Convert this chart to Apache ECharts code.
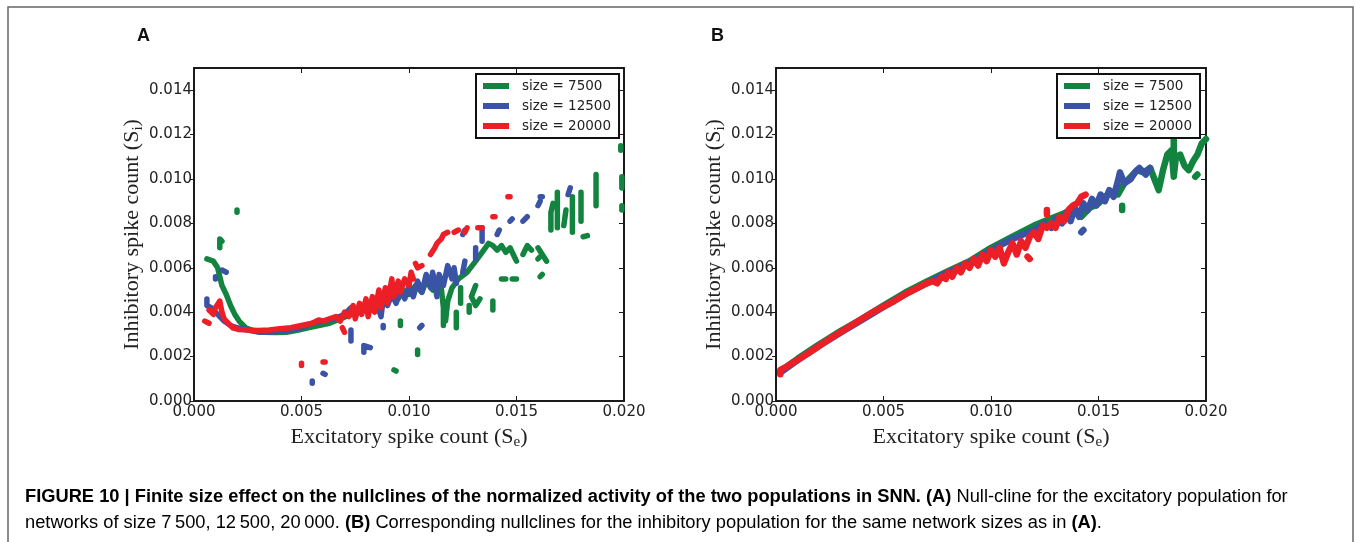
<!DOCTYPE html>
<html>
<head>
<meta charset="utf-8">
<script src="https://cdn.jsdelivr.net/npm/echarts@6/dist/echarts.min.js"></script>
<style>
  html, body { margin: 0; padding: 0; background: #fff; }
  #chart { width: 1355px; height: 542px; }
</style>
</head>
<body>
<div id="chart"></div>
<script>
// Network sizes shown in both panels
const sizes = ['size = 7500', 'size = 12500', 'size = 20000'];
const colors = ['#13843f', '#3a53a4', '#ec1f27'];

// Axis ticks
const xTicks = [0, 0.005, 0.010, 0.015, 0.020];
const yTicks = [0, 0.002, 0.004, 0.006, 0.008, 0.010, 0.012, 0.014];

// Panel A: excitatory nullcline, points [Se, Si]; null breaks the trace
const aGreen = [
  [0.0006,0.0064],[0.0009,0.0063],[0.0011,0.0060],[0.0012,0.0056],[0.0013,0.0052],[0.0015,0.0048],
  [0.0017,0.0043],[0.0019,0.0039],[0.0021,0.0036],[0.0024,0.0033],[0.0028,0.00315],[0.0033,0.0031],
  [0.0038,0.00308],[0.0043,0.0031],[0.0048,0.00318],[0.0053,0.0033],[0.0058,0.0034],[0.0063,0.0035],
  [0.0068,0.0037],[0.0073,0.0039],[0.0078,0.0041],[0.0083,0.0043],[0.0087,0.0045],[0.0090,0.0047],
  [0.0093,0.0049],[0.0095,0.0046],[0.0097,0.0050],[0.0100,0.0048],[0.0103,0.0052],[0.0106,0.0049],
  [0.0108,0.0054],[0.0111,0.0050],[0.0113,0.0055],[0.0115,0.0051],[0.0116,0.0042],[0.0116,0.0034],null,
  [0.0117,0.0036],[0.0118,0.0045],[0.0120,0.0051],[0.0123,0.0055],[0.0127,0.0058],[0.0131,0.0063],
  [0.0134,0.0067],[0.0137,0.0071],[0.0139,0.0070],[0.0141,0.0068],[0.0143,0.0070],[0.0145,0.0067],
  [0.0147,0.0069],[0.0149,0.0065],[0.0150,0.0063],null,
  [0.0153,0.0066],[0.0155,0.0070],[0.0157,0.0068],null,
  [0.0160,0.0069],[0.0162,0.0066],[0.0164,0.0063],null,
  [0.0124,0.0051],[0.0124,0.0044],null,
  [0.0131,0.0052],[0.0129,0.0047],[0.0131,0.0043],[0.0133,0.0046],null,
  [0.0122,0.0033],[0.0122,0.0040],null,
  [0.0128,0.0040],[0.0128,0.0043],null,
  [0.0139,0.0041],[0.0139,0.0045],null,
  [0.0143,0.0055],[0.0145,0.0055],null,
  [0.0148,0.0055],[0.0150,0.0055],null,
  [0.0161,0.0056],[0.0162,0.0057],null,
  [0.0160,0.0064],[0.0161,0.0065],null,
  [0.0166,0.0077],[0.0166,0.0085],[0.0167,0.0089],null,
  [0.0169,0.0078],[0.0169,0.0094],null,
  [0.0172,0.0079],[0.0173,0.0086],null,
  [0.0176,0.0076],[0.0176,0.0092],null,
  [0.0180,0.0081],[0.0180,0.0094],null,
  [0.0181,0.0074],[0.0183,0.00745],null,
  [0.0187,0.0088],[0.0187,0.0102],null,
  [0.01985,0.0113],[0.01985,0.0115],null,
  [0.0199,0.0096],[0.0199,0.0101],null,
  [0.0199,0.0086],[0.0199,0.0088],null,
  [0.0104,0.0021],[0.0104,0.0023],null,
  [0.0093,0.0014],[0.0094,0.00135],null,
  [0.0096,0.0034],[0.0096,0.0036],null,
  [0.0012,0.0069],[0.0012,0.0073],[0.0013,0.0072],null,
  [0.0020,0.0085],[0.0020,0.0086]
];
const aBlue = [
  [0.0006,0.0046],[0.0006,0.0043],[0.0008,0.0042],[0.0010,0.0040],[0.0012,0.0038],[0.0014,0.0036],
  [0.0017,0.0034],[0.0020,0.0033],[0.0025,0.0032],[0.0030,0.0031],[0.0035,0.0031],[0.0040,0.00315],
  [0.0045,0.0032],[0.0050,0.0033],[0.0055,0.0035],[0.0060,0.0036],[0.0065,0.0037],[0.0070,0.0039],
  [0.0073,0.0042],[0.0076,0.0040],[0.0079,0.0043],[0.0082,0.0041],[0.0085,0.0044],[0.0087,0.0038],
  [0.0088,0.0046],[0.0090,0.0043],[0.0092,0.0048],[0.0094,0.0044],[0.0096,0.0050],[0.0098,0.0046],
  [0.0100,0.0052],[0.0102,0.0047],[0.0104,0.0054],[0.0106,0.0049],[0.0108,0.0057],[0.0110,0.0051],
  [0.0111,0.0058],[0.0113,0.0047],[0.0114,0.0057],[0.0116,0.0052],[0.0118,0.0061],[0.0120,0.0055],
  [0.0121,0.0060],[0.0122,0.0053],null,
  [0.0125,0.0058],[0.0126,0.0063],null,
  [0.0010,0.0055],[0.0010,0.0056],null,
  [0.0013,0.0059],[0.0015,0.0058],null,
  [0.0073,0.0032],[0.0073,0.0027],null,
  [0.0079,0.0022],[0.0079,0.0025],[0.0082,0.0024],null,
  [0.0088,0.0033],[0.0088,0.0034],null,
  [0.0105,0.0033],[0.0106,0.0034],null,
  [0.0055,0.0008],[0.0055,0.0009],null,
  [0.0060,0.00125],[0.0061,0.0012],null,
  [0.0131,0.0064],[0.0131,0.0069],null,
  [0.0134,0.0072],[0.0134,0.0078],null,
  [0.0125,0.0075],[0.0126,0.0077],null,
  [0.0141,0.0075],[0.0142,0.0077],null,
  [0.0147,0.0081],[0.0148,0.0082],null,
  [0.0153,0.0081],[0.0155,0.0083],null,
  [0.0160,0.0088],[0.0161,0.0090],null,
  [0.0161,0.0092],[0.0162,0.0092],null,
  [0.0174,0.0093],[0.0175,0.0096]
];
const aRed = [
  [0.0005,0.0036],[0.0007,0.0035],null,
  [0.0007,0.0041],[0.0009,0.0039],[0.0010,0.0042],[0.0012,0.0045],[0.0013,0.0040],[0.0014,0.0037],
  [0.0016,0.0035],[0.0018,0.0033],[0.0021,0.00322],[0.0025,0.0032],[0.0030,0.00318],[0.0035,0.0032],
  [0.0040,0.00325],[0.0045,0.0033],[0.0050,0.0034],[0.0055,0.0035],[0.0058,0.00365],[0.0060,0.0036],
  [0.0063,0.0037],[0.0066,0.0038],[0.0068,0.0036],[0.0070,0.0040],[0.0072,0.0038],[0.0074,0.0043],
  [0.0075,0.0037],[0.0077,0.0044],[0.0078,0.0039],[0.0080,0.0046],[0.0081,0.0038],[0.0083,0.0047],
  [0.0084,0.0040],[0.0086,0.0050],[0.0087,0.0042],[0.0089,0.0051],[0.0090,0.0044],[0.0092,0.0055],
  [0.0093,0.0047],[0.0095,0.0054],[0.0096,0.0049],[0.0098,0.0055],[0.0100,0.0052],[0.0101,0.0058],
  [0.0102,0.0055],null,
  [0.0103,0.0062],[0.0104,0.0060],[0.0106,0.0061],null,
  [0.0110,0.0066],[0.0112,0.0069],[0.0113,0.0071],[0.0115,0.0073],[0.0116,0.0075],[0.0118,0.0076],null,
  [0.0121,0.0076],[0.0123,0.0077],null,
  [0.0126,0.0076],[0.0127,0.0078],null,
  [0.0132,0.0078],[0.0134,0.0078],null,
  [0.0139,0.0083],[0.0140,0.0083],null,
  [0.0146,0.0092],[0.0147,0.0092],null,
  [0.0069,0.0033],[0.0070,0.0031],null,
  [0.0066,0.0031],[0.0066,0.0031],null,
  [0.0050,0.0016],[0.0050,0.0017],null,
  [0.0060,0.00176],[0.0061,0.00176]
];

// Panel B: inhibitory nullcline, points [Se, Si]
const bGreen = [
  [0.0002,0.00135],[0.0010,0.0019],[0.0020,0.00255],[0.0030,0.00315],[0.0040,0.0037],[0.0050,0.0043],
  [0.0060,0.00488],[0.0070,0.00538],[0.0080,0.00585],[0.0090,0.0063],[0.0100,0.0069],[0.0110,0.0074],
  [0.0120,0.0079],[0.0130,0.0083],[0.0138,0.0086],[0.0142,0.0083],[0.0146,0.0087],[0.0150,0.0089],
  [0.0153,0.0092],[0.0156,0.0094],[0.0159,0.0093],[0.0162,0.0098],[0.0165,0.0101],[0.0168,0.0104],
  [0.0171,0.0103],[0.0174,0.0105],[0.0176,0.0100],[0.0178,0.0095],[0.0180,0.0104],[0.0182,0.0111],
  [0.0184,0.0113],[0.0185,0.0101],[0.0186,0.0110],[0.0188,0.0111],[0.0190,0.0106],[0.0192,0.0104],
  [0.0194,0.0108],[0.0196,0.0111],[0.0198,0.0116],[0.0200,0.0118],null,
  [0.0185,0.0112],[0.0185,0.0119],null,
  [0.0195,0.0101],[0.0196,0.0102],null,
  [0.0161,0.0086],[0.0161,0.0088]
];
const bBlue = [
  [0.0002,0.00128],[0.0010,0.00183],[0.0020,0.00248],[0.0030,0.00308],[0.0040,0.00365],[0.0050,0.00424],
  [0.0060,0.0048],[0.0070,0.0053],[0.0080,0.0058],[0.0090,0.0062],[0.0100,0.0068],[0.0110,0.0073],
  [0.0120,0.0077],[0.0125,0.0080],[0.0128,0.0078],[0.0130,0.0082],[0.0133,0.0080],[0.0135,0.0085],
  [0.0137,0.0081],[0.0139,0.0087],[0.0141,0.0083],[0.0143,0.0089],[0.0145,0.0086],[0.0147,0.0091],
  [0.0149,0.0088],[0.0151,0.0093],[0.0153,0.0090],[0.0155,0.0095],[0.0157,0.0092],[0.0159,0.0099],
  [0.0160,0.0103],[0.0162,0.0098],[0.0165,0.0100],[0.0167,0.0103],[0.0169,0.0105],[0.0172,0.0102],
  [0.0174,0.0105],null,
  [0.0142,0.0076],[0.0143,0.0077]
];
const bRed = [
  [0.0002,0.0012],[0.0002,0.0014],[0.0005,0.00155],[0.0010,0.00185],[0.0015,0.00215],[0.0020,0.00248],
  [0.0025,0.0028],[0.0030,0.0031],[0.0035,0.0034],[0.0040,0.0037],[0.0045,0.0040],[0.0050,0.00425],
  [0.0055,0.0045],[0.0060,0.0048],[0.0065,0.00505],[0.0070,0.0053],[0.0073,0.0054],[0.0075,0.0053],
  [0.0077,0.0056],[0.0079,0.0055],[0.0080,0.0058],[0.0082,0.0056],[0.0084,0.0060],[0.0086,0.0058],
  [0.0088,0.0062],[0.0090,0.0060],[0.0092,0.0064],[0.0094,0.0061],[0.0096,0.0066],[0.0098,0.0063],
  [0.0100,0.0068],[0.0102,0.0065],[0.0104,0.0069],[0.0106,0.0062],[0.0108,0.0067],[0.0110,0.0071],
  [0.0112,0.0066],[0.0114,0.0072],[0.0116,0.0069],[0.0118,0.0074],[0.0120,0.0076],[0.0122,0.0073],
  [0.0124,0.0079],[0.0126,0.0078],[0.0128,0.0080],[0.0130,0.0078],[0.0132,0.0083],[0.0134,0.0081],
  [0.0136,0.0086],[0.0138,0.0088],[0.0140,0.0089],[0.0142,0.0092],[0.0144,0.0093],null,
  [0.0126,0.0084],[0.0126,0.0086],null,
  [0.0117,0.0065],[0.0118,0.0064]
];

const panelA = [aGreen, aBlue, aRed];
const panelB = [bGreen, bBlue, bRed];

const tickFont = { fontFamily: 'DejaVu Sans', fontSize: 15, color: '#222' };
const titleRich = {
  t: { fontFamily: 'Liberation Serif', fontSize: 22, color: '#222' },
  s: { fontFamily: 'Liberation Serif', fontSize: 15, color: '#222', padding: [10, 0, 0, 0] }
};
const frame = { show: true, onZero: false, lineStyle: { color: '#1a1a1a', width: 2 } };
const tickLine = { color: '#1a1a1a', width: 1 };

function fmt(v) {
  return yTicks.concat(xTicks).some(t => Math.abs(t - v) < 1e-9) ? v.toFixed(3) : '';
}

function xAxes(gridIndex) {
  return [
    { type: 'value', gridIndex, min: 0, max: 0.02, interval: 0.005, position: 'bottom',
      axisLine: frame, splitLine: { show: false },
      axisTick: { inside: true, length: 5, lineStyle: tickLine },
      axisLabel: Object.assign({ margin: 4, formatter: fmt }, tickFont),
      name: '{t|Excitatory spike count (S}{s|e}{t|)}', nameLocation: 'middle', nameGap: 24,
      nameTextStyle: { rich: titleRich } },
    { type: 'value', gridIndex, min: 0, max: 0.02, interval: 0.005, position: 'top',
      axisLine: frame, splitLine: { show: false },
      axisTick: { inside: true, length: 5, lineStyle: tickLine },
      axisLabel: { show: false } }
  ];
}
function yAxes(gridIndex) {
  return [
    { type: 'value', gridIndex, min: 0, max: 0.015, interval: 0.002, position: 'left',
      axisLine: frame, splitLine: { show: false },
      axisTick: { inside: false, length: 4, lineStyle: tickLine },
      axisLabel: Object.assign({ margin: 2, formatter: fmt, showMaxLabel: false }, tickFont),
      name: '{t|Inhibitory spike count (S}{s|i}{t|)}', nameLocation: 'middle', nameGap: 40,
      nameRotate: 90, nameTextStyle: { rich: titleRich } },
    { type: 'value', gridIndex, min: 0, max: 0.015, interval: 0.002, position: 'right',
      axisLine: frame, splitLine: { show: false },
      axisTick: { inside: true, length: 5, lineStyle: tickLine },
      axisLabel: { show: false } }
  ];
}

function traces(sets, axisIndex, width) {
  return sets.map((pts, i) => ({
    type: 'line', name: sizes[i], xAxisIndex: axisIndex, yAxisIndex: axisIndex,
    data: pts.map(p => (p ? p : ['-', '-'])),
    symbol: 'none', showSymbol: false, connectNulls: false, silent: true,
    color: colors[i],
    lineStyle: { color: colors[i], width, cap: 'round', join: 'round' },
    z: 2 + i
  }));
}

function legendAt(left) {
  return {
    left, top: 74, orient: 'vertical', data: sizes, icon: 'rect',
    itemWidth: 26, itemHeight: 6, itemGap: 6, padding: [5, 8, 5, 7],
    borderColor: '#111', borderWidth: 2, backgroundColor: '#fff', selectedMode: false,
    textStyle: { fontFamily: 'DejaVu Sans', fontSize: 13.5, color: '#222', lineHeight: 14, padding: [0, 0, 0, 8] },
    z: 10
  };
}

const captionRich = {
  b: { fontFamily: 'Liberation Sans', fontSize: 18.3, fontWeight: 'bold', color: '#111' },
  r: { fontFamily: 'Liberation Sans', fontSize: 18.3, color: '#222' }
};

const chart = echarts.init(document.getElementById('chart'), null, { renderer: 'canvas' });
chart.setOption({
  animation: false,
  backgroundColor: '#fff',
  grid: [
    { left: 194, top: 68, width: 430, height: 333, containLabel: false, outerBoundsMode: 'none' },
    { left: 776, top: 68, width: 430, height: 333, containLabel: false, outerBoundsMode: 'none' }
  ],
  xAxis: xAxes(0).concat(xAxes(1)),
  yAxis: yAxes(0).concat(yAxes(1)),
  legend: [legendAt(476), legendAt(1057)],
  series: traces(panelA, 0, 5.5).concat(traces(panelB, 2, 6.5)),
  graphic: [
    { type: 'rect', shape: { x: 8, y: 7, width: 1345, height: 560 },
      style: { fill: 'none', stroke: '#666', lineWidth: 1.5 }, silent: true },
    { type: 'text', left: 137, top: 27,
      style: { text: 'A', fontFamily: 'Liberation Sans', fontWeight: 'bold', fontSize: 18, fill: '#111' } },
    { type: 'text', left: 711, top: 27,
      style: { text: 'B', fontFamily: 'Liberation Sans', fontWeight: 'bold', fontSize: 18, fill: '#111' } },
    { type: 'text', left: 25, top: 484,
      style: {
        text: '{b|FIGURE 10 | Finite size effect on the nullclines of the normalized activity of the two populations in SNN. (A)}{r| Null-cline for the excitatory population for}\n' +
              '{r|networks of size 7\u2009500, 12\u2009500, 20\u2009000. }{b|(B)}{r| Corresponding nullclines for the inhibitory population for the same network sizes as in }{b|(A)}{r|.}',
        rich: captionRich, lineHeight: 26
      } }
  ]
});
</script>
</body>
</html>
